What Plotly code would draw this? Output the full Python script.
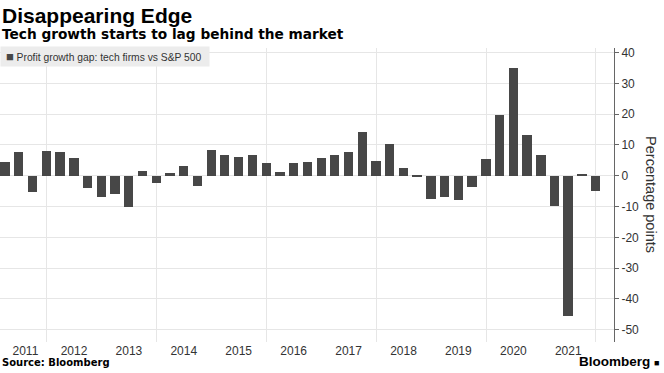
import plotly.graph_objects as go

# ---- data ----
years = list(range(2011, 2022))
quarter_ends = ["03-31", "06-30", "09-30", "12-31"]
quarters = [f"{y}-{q}" for y in years for q in quarter_ends]

gap_values = [
    4.4, 7.7, -5.2, 8.2,      # 2011
    7.8, 5.7, -4.1, -6.8,     # 2012
    -6.0, -10.2, 1.5, -2.2,   # 2013
    0.8, 3.1, -3.4, 8.3,      # 2014
    6.8, 6.1, 6.6, 4.1,       # 2015
    1.3, 4.1, 4.5, 5.7,       # 2016
    6.8, 7.6, 14.3, 4.8,      # 2017
    10.3, 2.6, -0.3, -7.6,    # 2018
    -6.8, -7.8, -3.8, 5.3,    # 2019
    19.6, 35.0, 13.1, 6.8,    # 2020
    -9.7, -45.7, 0.3, -4.9,   # 2021
]

x_tick_vals = ["2011-08-13"] + [f"{y}-07-01" for y in range(2012, 2022)]
x_tick_text = [str(y) for y in years]

y_tick_vals = [40, 30, 20, 10, 0, -10, -20, -30, -40, -50]
y_tick_text = ["40", "30", "20", "10", "0", "-10", "-20", "-30", "-40", "-50"]

series_name = "Profit growth gap: tech firms vs S&P 500"
bar_color = "#474747"
grid_color = "#e6e6e6"

fig = go.Figure()
fig.add_trace(go.Bar(
    x=quarters,
    y=gap_values,
    name=series_name,
    marker=dict(color=bar_color, line=dict(width=0)),
    width=62 * 86400000,
    showlegend=False,
))

fig.update_layout(
    width=664,
    height=373,
    autosize=False,
    margin=dict(l=0, r=50, t=48, b=31),
    paper_bgcolor="white",
    plot_bgcolor="white",
    font=dict(family="Liberation Sans, Arial, sans-serif", color="#333333"),
    bargap=0,
    xaxis=dict(
        type="date",
        range=["2011-02-25", "2022-05-01"],
        tickmode="array",
        tickvals=x_tick_vals,
        ticktext=x_tick_text,
        ticks="",
        showgrid=False,
        showline=False,
        zeroline=False,
        tickfont=dict(size=12, color="#333333"),
        minor=dict(
            tick0="2012-01-01",
            dtick="M24",
            showgrid=True,
            gridcolor=grid_color,
            gridwidth=1,
            ticks="",
        ),
    ),
    yaxis=dict(
        side="right",
        range=[-54, 41.5],
        tickmode="array",
        tickvals=y_tick_vals,
        ticktext=y_tick_text,
        ticks="outside",
        ticklen=4,
        tickcolor="#666666",
        showline=True,
        linecolor="#666666",
        linewidth=1,
        showgrid=True,
        gridcolor=grid_color,
        gridwidth=1,
        zeroline=False,
        tickfont=dict(size=12, color="#333333"),
    ),
    annotations=[
        dict(
            text="<b>Disappearing Edge</b>",
            xref="paper", yref="paper", x=0, y=1.112,
            xanchor="left", yanchor="middle", showarrow=False,
            font=dict(family="Liberation Sans, Arial, sans-serif", size=21, color="#000000"),
        ),
        dict(
            text="<b>Tech growth starts to lag behind the market</b>",
            xref="paper", yref="paper", x=0, y=1.0476,
            xanchor="left", yanchor="middle", showarrow=False,
            font=dict(family="DejaVu Sans, Verdana, sans-serif", size=13.7, color="#000000"),
        ),
        dict(
            text=f" <span style='color:{bar_color};font-size:13px'>■</span> {series_name}  ",
            xref="paper", yref="paper", x=0, y=0.971,
            xanchor="left", yanchor="middle", showarrow=False,
            bgcolor="#ececec", borderpad=2,
            font=dict(family="Liberation Sans, Arial, sans-serif", size=10.3, color="#333333"),
        ),
        dict(
            text="Percentage points",
            xref="paper", yref="paper", x=1.0603, y=0.503,
            xanchor="center", yanchor="middle", showarrow=False,
            textangle=90,
            font=dict(family="Liberation Sans, Arial, sans-serif", size=14.5, color="#333333"),
        ),
        dict(
            text="<b>Source: Bloomberg</b>",
            xref="paper", yref="paper", x=0, y=-0.0714,
            xanchor="left", yanchor="middle", showarrow=False,
            font=dict(family="DejaVu Sans, Verdana, sans-serif", size=10, color="#000000"),
        ),
        dict(
            text="<b>Bloomberg</b> <span style='font-size:9px'>■</span>",
            xref="paper", yref="paper", x=1.0765, y=-0.068,
            xanchor="right", yanchor="middle", showarrow=False,
            font=dict(family="Liberation Sans, Arial, sans-serif", size=13.5, color="#000000"),
        ),
    ],
)

fig.write_html(
    "out.html",
    config={"displayModeBar": False},
    post_script="document.body.style.margin='0';document.body.style.padding='0';",
)
